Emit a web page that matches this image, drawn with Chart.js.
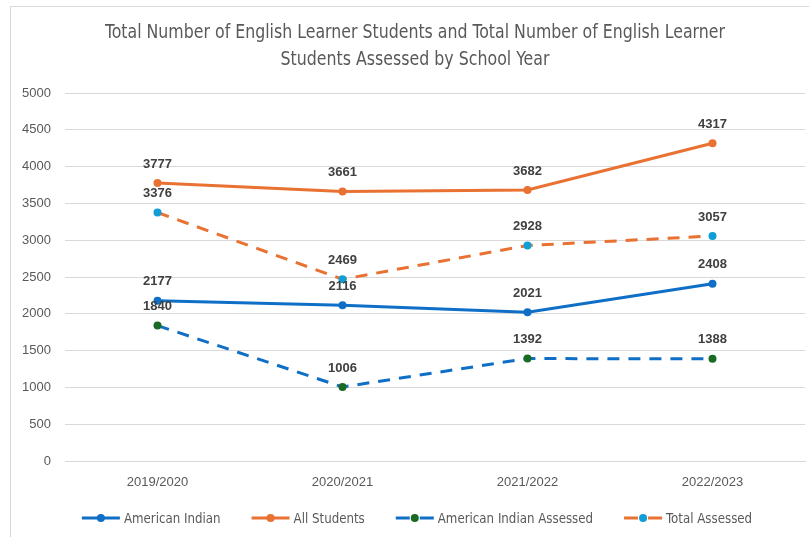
<!DOCTYPE html>
<html><head><meta charset="utf-8">
<script src="https://cdn.jsdelivr.net/npm/chart.js@4/dist/chart.umd.min.js"></script>
<style>html,body{margin:0;padding:0;background:#fff}#wrap{width:809px;height:537px;position:relative}</style>
</head><body><div id="wrap"><canvas id="c" width="809" height="537"></canvas></div>
<script>
const titleLines = ["Total Number of English Learner Students and Total Number of English Learner", "Students Assessed by School Year"];
const categories = ["2019/2020", "2020/2021", "2021/2022", "2022/2023"];
const americanIndian = [2177, 2116, 2021, 2408];
const allStudents = [3777, 3661, 3682, 4317];
const americanIndianAssessed = [1840, 1006, 1392, 1388];
const totalAssessed = [3376, 2469, 2928, 3057];
const yTicks = [0, 500, 1000, 1500, 2000, 2500, 3000, 3500, 4000, 4500, 5000];

const BLUE = '#0F6FC6', ORANGE = '#E97132', GREEN = '#196B24', LBLUE = '#0F9ED5';
const NARROW = '"DejaVu Sans Condensed", "Liberation Sans", sans-serif';

function squeezedText(ctx, text, x, y, sx, align) {
  ctx.save();
  ctx.translate(x, y);
  ctx.scale(sx, 1);
  ctx.textAlign = align;
  ctx.fillText(text, 0, 0);
  ctx.restore();
}

const frame = {
  id: 'frame',
  beforeDraw(chart) {
    const ctx = chart.ctx;
    ctx.save();
    ctx.strokeStyle = '#d9d9d9'; ctx.lineWidth = 1;
    ctx.strokeRect(10.5, 6.5, 900, 700);
    ctx.restore();
  },
  afterDraw(chart) {
    const ctx = chart.ctx;
    ctx.save();
    // title
    ctx.fillStyle = '#595959';
    ctx.font = '19px ' + NARROW;
    ctx.textBaseline = 'middle';
    titleLines.forEach((t, i) => {
      const w = ctx.measureText(t).width;
      const sx = i === 0 ? 620 / w : 0.925;
      squeezedText(ctx, t, 415, 33 + i * 27, sx, 'center');
    });
    // data labels
    ctx.font = 'bold 13px "Liberation Sans", Arial, sans-serif';
    ctx.fillStyle = '#404040';
    ctx.textAlign = 'center';
    chart.data.datasets.forEach((ds, di) => {
      chart.getDatasetMeta(di).data.forEach((pt, i) => {
        ctx.fillText(String(ds.data[i]), pt.x, pt.y - 19);
      });
    });
    // legend
    ctx.font = '14px ' + NARROW;
    ctx.textBaseline = 'middle';
    const sx = 0.94;
    const lineW = 38, gapT = 4, gapI = 31;
    const items = chart.data.datasets.map(ds => ({ds, tw: ctx.measureText(ds.label).width * sx}));
    items.forEach(it => it.w = lineW + gapT + it.tw);
    const total = items.reduce((s, it) => s + it.w, 0) + gapI * (items.length - 1);
    let x = 417 - total / 2;
    const y = 518;
    items.forEach(it => {
      const ds = it.ds;
      ctx.strokeStyle = ds.borderColor; ctx.lineWidth = 3;
      ctx.beginPath();
      if (ds.borderDash) {
        ctx.moveTo(x, y); ctx.lineTo(x + 14, y);
        ctx.moveTo(x + 24, y); ctx.lineTo(x + lineW, y);
      } else {
        ctx.moveTo(x, y); ctx.lineTo(x + lineW, y);
      }
      ctx.stroke();
      ctx.fillStyle = ds.pointBackgroundColor;
      ctx.beginPath(); ctx.arc(x + lineW / 2, y, 4, 0, Math.PI * 2); ctx.fill();
      ctx.fillStyle = '#595959';
      squeezedText(ctx, ds.label, x + lineW + gapT, y + 1, sx, 'left');
      x += it.w + gapI;
    });
    ctx.restore();
  }
};

const tickFont = {size: 13, family: '"Liberation Sans", Arial, sans-serif'};

new Chart(document.getElementById('c'), {
  type: 'line',
  data: {
    labels: categories,
    datasets: [
      {label: 'American Indian', data: americanIndian, borderColor: BLUE, backgroundColor: BLUE, pointBackgroundColor: BLUE, pointBorderColor: BLUE},
      {label: 'All Students', data: allStudents, borderColor: ORANGE, backgroundColor: ORANGE, pointBackgroundColor: ORANGE, pointBorderColor: ORANGE},
      {label: 'American Indian Assessed', data: americanIndianAssessed, borderColor: BLUE, backgroundColor: GREEN, pointBackgroundColor: GREEN, pointBorderColor: GREEN, borderDash: [12, 9]},
      {label: 'Total Assessed', data: totalAssessed, borderColor: ORANGE, backgroundColor: LBLUE, pointBackgroundColor: LBLUE, pointBorderColor: LBLUE, borderDash: [12, 9]}
    ]
  },
  options: {
    responsive: false, animation: false,
    elements: {line: {borderWidth: 3, tension: 0}, point: {radius: 4, borderWidth: 0}},
    layout: {padding: {left: 10, right: 4, top: 93, bottom: 0}},
    plugins: {legend: {display: false}, title: {display: false}, tooltip: {enabled: false}},
    scales: {
      x: {
        offset: true,
        grid: {display: false, drawTicks: false},
        border: {display: true, color: '#d9d9d9'},
        ticks: {color: '#595959', font: tickFont, padding: 14},
        afterFit(s) { s.height = 76; }
      },
      y: {
        min: 0, max: 5000,
        afterBuildTicks(s) { s.ticks = yTicks.map(v => ({value: v})); },
        grid: {color: '#d9d9d9', drawTicks: false},
        border: {display: false},
        ticks: {color: '#595959', font: tickFont, padding: 14, callback: v => String(v)},
        afterFit(s) { s.width = 55; }
      }
    }
  },
  plugins: [frame]
});
</script>
</body></html>
